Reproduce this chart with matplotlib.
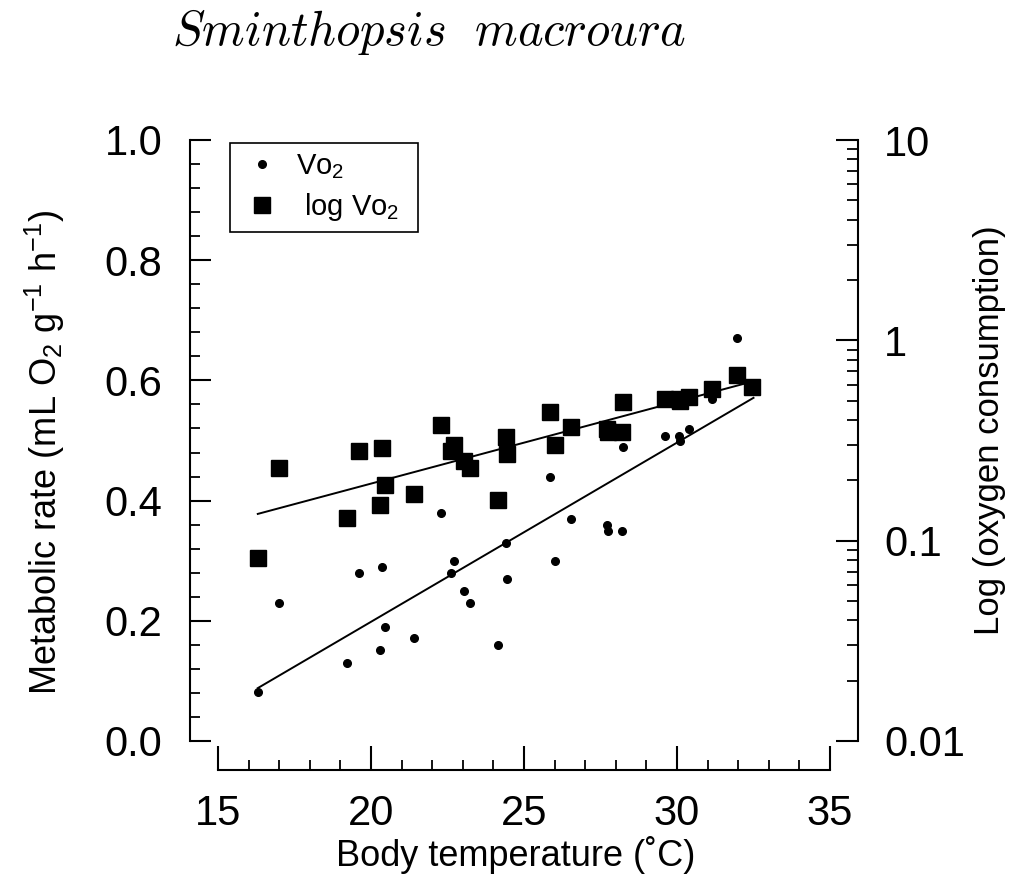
import matplotlib
matplotlib.use("Agg")
import matplotlib.pyplot as plt
from matplotlib.ticker import MultipleLocator, FixedLocator, FuncFormatter, LogLocator

plt.rcParams['font.family'] = ['Liberation Sans', 'DejaVu Sans']
plt.rcParams['mathtext.fontset'] = 'custom'
plt.rcParams['mathtext.rm'] = 'Liberation Sans'
plt.rcParams['mathtext.it'] = 'Liberation Sans:italic'

# body temperature (C) and oxygen consumption (mL O2 g-1 h-1)
body_temp = [16.3, 17.0, 19.2, 19.6, 20.3, 20.35, 20.45, 21.4, 22.3, 22.6,
             22.7, 23.05, 23.25, 24.15, 24.4, 24.45, 25.85, 26.0, 26.55, 27.7,
             27.75, 28.2, 28.25, 29.6, 30.05, 30.1, 30.4, 31.15, 31.95, 32.45]
vo2 = [0.082, 0.23, 0.13, 0.28, 0.151, 0.29, 0.19, 0.171, 0.38, 0.28,
       0.30, 0.25, 0.23, 0.16, 0.33, 0.27, 0.44, 0.30, 0.37, 0.36,
       0.35, 0.35, 0.49, 0.508, 0.508, 0.499, 0.519, 0.569, 0.67, 0.588]

# fitted regression lines (end points)
lin_fit_x = [16.3, 32.5]
lin_fit_y = [0.088, 0.571]
log_fit_x = [16.3, 32.45]
log_fit_y = [0.136, 0.622]

fig = plt.figure(figsize=(10.12, 8.82), dpi=100)
ax = fig.add_axes([218 / 1012, 1 - 741 / 882, 612 / 1012, 601 / 882])
ax2 = ax.twinx()

# linear axis: Vo2
dots, = ax.plot(body_temp, vo2, 'o', color='black', markersize=5.5, label='Vo$_2$')
ax.plot(lin_fit_x, lin_fit_y, color='black', linewidth=1.4)

# log axis: same values, squares
squares, = ax2.plot(body_temp, vo2, 's', color='black', markersize=11, label=' log Vo$_2$  ')
ax2.plot(log_fit_x, log_fit_y, color='black', linewidth=1.4)

ax.set_xlim(15, 35)
ax.set_ylim(0, 1.0)
ax2.set_yscale('log')
ax2.set_ylim(0.01, 10)

for a in (ax, ax2):
    a.spines['top'].set_visible(False)
    for s in a.spines.values():
        s.set_linewidth(1.5)
ax.spines['right'].set_visible(False)
ax2.spines['left'].set_visible(False)
ax2.spines['bottom'].set_visible(False)
# offsets are in points (100 dpi -> 1 pt = 1.39 px)
ax.spines['left'].set_position(('outward', 20))
ax.spines['bottom'].set_position(('outward', 21))
ax2.spines['right'].set_position(('outward', 20))

ax.xaxis.set_major_locator(MultipleLocator(5))
ax.xaxis.set_minor_locator(MultipleLocator(1))
ax.yaxis.set_major_locator(MultipleLocator(0.2))
ax.yaxis.set_minor_locator(MultipleLocator(0.04))
ax.yaxis.set_major_formatter(FuncFormatter(lambda v, p: f'{v:.1f}'))
ax2.yaxis.set_major_locator(FixedLocator([0.01, 0.1, 1, 10]))
ax2.yaxis.set_minor_locator(LogLocator(base=10, subs=range(2, 10)))
ax2.yaxis.set_major_formatter(FuncFormatter(lambda v, p: f'{v:g}'))

ax.tick_params(axis='both', which='major', direction='in', length=15, width=1.5,
               labelsize=30, pad=20)
ax.tick_params(axis='both', which='minor', direction='in', length=7, width=1.3)
ax.tick_params(axis='x', which='major', length=17, pad=17)
ax2.tick_params(axis='y', which='major', direction='in', length=16, width=1.5,
                labelsize=30, pad=19)
ax2.tick_params(axis='y', which='minor', direction='in', length=8, width=1.3)

ax.set_xlabel('Body temperature (˚C)', fontsize=26)
ax.xaxis.set_label_coords(0.487, -0.158)
ax.set_ylabel('Metabolic rate (mL O$_2$ g$^{-1}$ h$^{-1}$)', fontsize=26, va='center')
ax.yaxis.set_label_coords(-0.283, 0.481)
ax2.set_ylabel('Log (oxygen consumption)', fontsize=25, va='center')
ax2.yaxis.set_label_coords(1.261, 0.517)

leg = ax2.legend(handles=[dots, squares], loc='upper left', bbox_to_anchor=(0.0196, 0.995),
                 borderaxespad=0, fontsize=21, fancybox=False, framealpha=1,
                 edgecolor='black', handlelength=1.6, handletextpad=0.35,
                 borderpad=0.3, labelspacing=0.35, markerscale=1.0)
leg.get_frame().set_linewidth(1.2)

fig.text(429 / 1012, 1 - 32 / 882, r'$Sminthopsis\ \ macroura$', fontsize=35,
         ha='center', va='center', math_fontfamily='cm')

fig.savefig('out.png', dpi=100, facecolor='white')
